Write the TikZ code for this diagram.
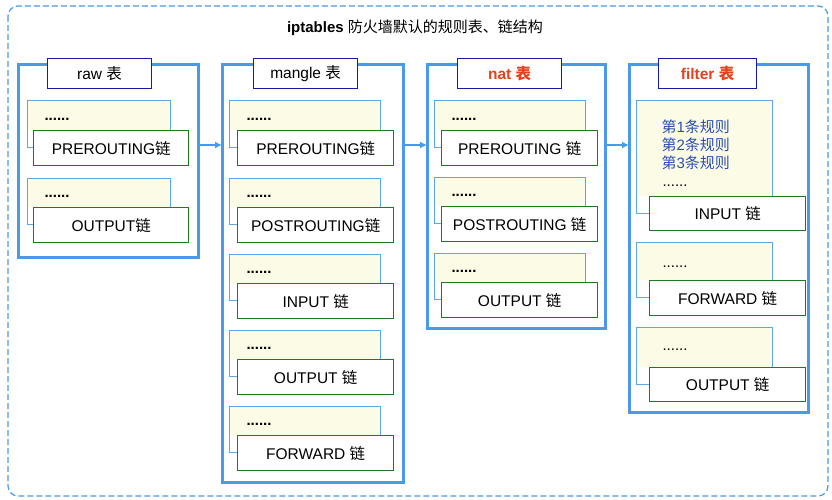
\documentclass[tikz,border=0pt]{standalone}
\usepackage{fontspec}
\setmainfont{Liberation Sans}
\newfontfamily\cjk{Noto Sans CJK SC}
\usetikzlibrary{arrows.meta}
\definecolor{tb}{HTML}{4A9AE8}
\definecolor{lb}{HTML}{5BA7EE}
\definecolor{yl}{HTML}{FCFCE6}
\definecolor{gr}{HTML}{1E7A1E}
\definecolor{nv}{HTML}{1A1AAA}
\definecolor{rd}{HTML}{E8401C}
\definecolor{rb}{HTML}{2A4FB0}
\newcommand\mychain[7]{% x1 x2 gx1 gx2 ytop name text
  \draw[yel] (#1,#5+29) -- (#1,#5) -- (#2,#5) -- (#2,#5+29);
  \fill[yl] (#1+0.5,#5+0.5) rectangle (#2-0.5,#5+29);
  \draw[lb,line width=1pt] (#1,#5) |- (#3,#5+46);
  \node[dots] at (#1+14,#5+18) {\textbf{......}};
  \node[grn,minimum width=#4-#3,minimum height=35pt] (#6) at (#3,#5+29) {#7};}
\begin{document}
\begin{tikzpicture}[x=1pt,y=-1pt,
  tbl/.style={draw=tb,line width=3pt},
  lab/.style={draw=nv,fill=white,line width=1.2pt,minimum height=30pt,anchor=north west,inner sep=0pt,font=\fontsize{15.5}{18}\selectfont},
  yel/.style={draw=lb,fill=yl,line width=1pt},
  grn/.style={draw=gr,fill=white,line width=1.4pt,inner sep=0pt,anchor=north west,font=\fontsize{15.5}{18}\selectfont},
  dots/.style={anchor=west,font=\fontsize{15}{16}\selectfont},
  arr/.style={draw=tb,line width=1.8pt,-{Latex[length=7pt,width=7pt]}}]
\useasboundingbox (0,0) rectangle (832,500);
\draw[tb,line width=1.2pt,dash pattern=on 6pt off 3pt,rounded corners=10pt] (8,6) rectangle (828,496);
\node[font=\fontsize{15}{18}\selectfont] (title) at (415,28) {\textbf{iptables} {\cjk 防火墙默认的规则表、链结构}};
\draw[tbl] (18,65) rectangle (198,257); \coordinate (raw) at (198,145);
\draw[tbl] (222,65) rectangle (403,482); \coordinate (mg) at (222,145); \coordinate (mgo) at (403,145);
\draw[tbl] (427,65) rectangle (605,328); \coordinate (nt) at (427,145); \coordinate (nto) at (605,145);
\draw[tbl] (629,65) rectangle (808,412); \coordinate (ft) at (629,145);
\node[lab,minimum width=104pt] (l1) at (47,58) {raw {\cjk 表}};
\node[lab,minimum width=104pt] (l2) at (253,58) {mangle {\cjk 表}};
\node[lab,minimum width=104pt,text=rd] (l3) at (457,58) {\textbf{nat {\cjk 表}}};
\node[lab,minimum width=98pt,text=rd] (l4) at (658,58) {\textbf{filter {\cjk 表}}};
\draw[arr] (raw) -- (mg);
\draw[arr] (mgo) -- (nt);
\draw[arr] (nto) -- (ft);
\mychain{27}{170}{33}{188}{101}{r1}{PREROUTING\cjk 链}
\mychain{27}{170}{33}{188}{178}{r2}{OUTPUT\cjk 链}
\mychain{229}{380}{237}{393}{101}{m1}{PREROUTING\cjk 链}
\mychain{229}{380}{237}{393}{178}{m2}{POSTROUTING\cjk 链}
\mychain{229}{380}{237}{393}{254}{m3}{INPUT {\cjk 链}}
\mychain{229}{380}{237}{393}{330}{m4}{OUTPUT {\cjk 链}}
\mychain{229}{380}{237}{393}{406}{m5}{FORWARD {\cjk 链}}
\mychain{434}{585}{441}{597}{101}{n1}{PREROUTING {\cjk 链}}
\mychain{434}{585}{441}{597}{177}{n2}{POSTROUTING {\cjk 链}}
\mychain{434}{585}{441}{597}{253}{n3}{OUTPUT {\cjk 链}}
\draw[yel] (636,196) -- (636,101) -- (772,101) -- (772,196);
\fill[yl] (636.5,101.5) rectangle (771.5,196);
\draw[lb,line width=1pt] (636,101) |- (649,213);
\node[anchor=west,text=rb,font=\fontsize{15}{18}\selectfont,align=left] (rules) at (658,145) {{\cjk 第}1{\cjk 条规则}\\{\cjk 第}2{\cjk 条规则}\\{\cjk 第}3{\cjk 条规则}};
\node[dots] at (659,186) {......};
\node[grn,minimum width=156pt,minimum height=34pt] (f1) at (649,196) {INPUT {\cjk 链}};
\draw[yel] (636,280) -- (636,242) -- (772,242) -- (772,280);
\fill[yl] (636.5,242.5) rectangle (771.5,280);
\draw[lb,line width=1pt] (636,242) |- (649,297);
\node[dots] at (659,267) {......};
\node[grn,minimum width=156pt,minimum height=35pt] (f2) at (649,280) {FORWARD {\cjk 链}};
\draw[yel] (636,367) -- (636,327) -- (772,327) -- (772,367);
\fill[yl] (636.5,327.5) rectangle (771.5,367);
\draw[lb,line width=1pt] (636,327) |- (649,384);
\node[dots] at (659,350) {......};
\node[grn,minimum width=156pt,minimum height=34pt] (f3) at (649,367) {OUTPUT {\cjk 链}};
\end{tikzpicture}
\end{document}
